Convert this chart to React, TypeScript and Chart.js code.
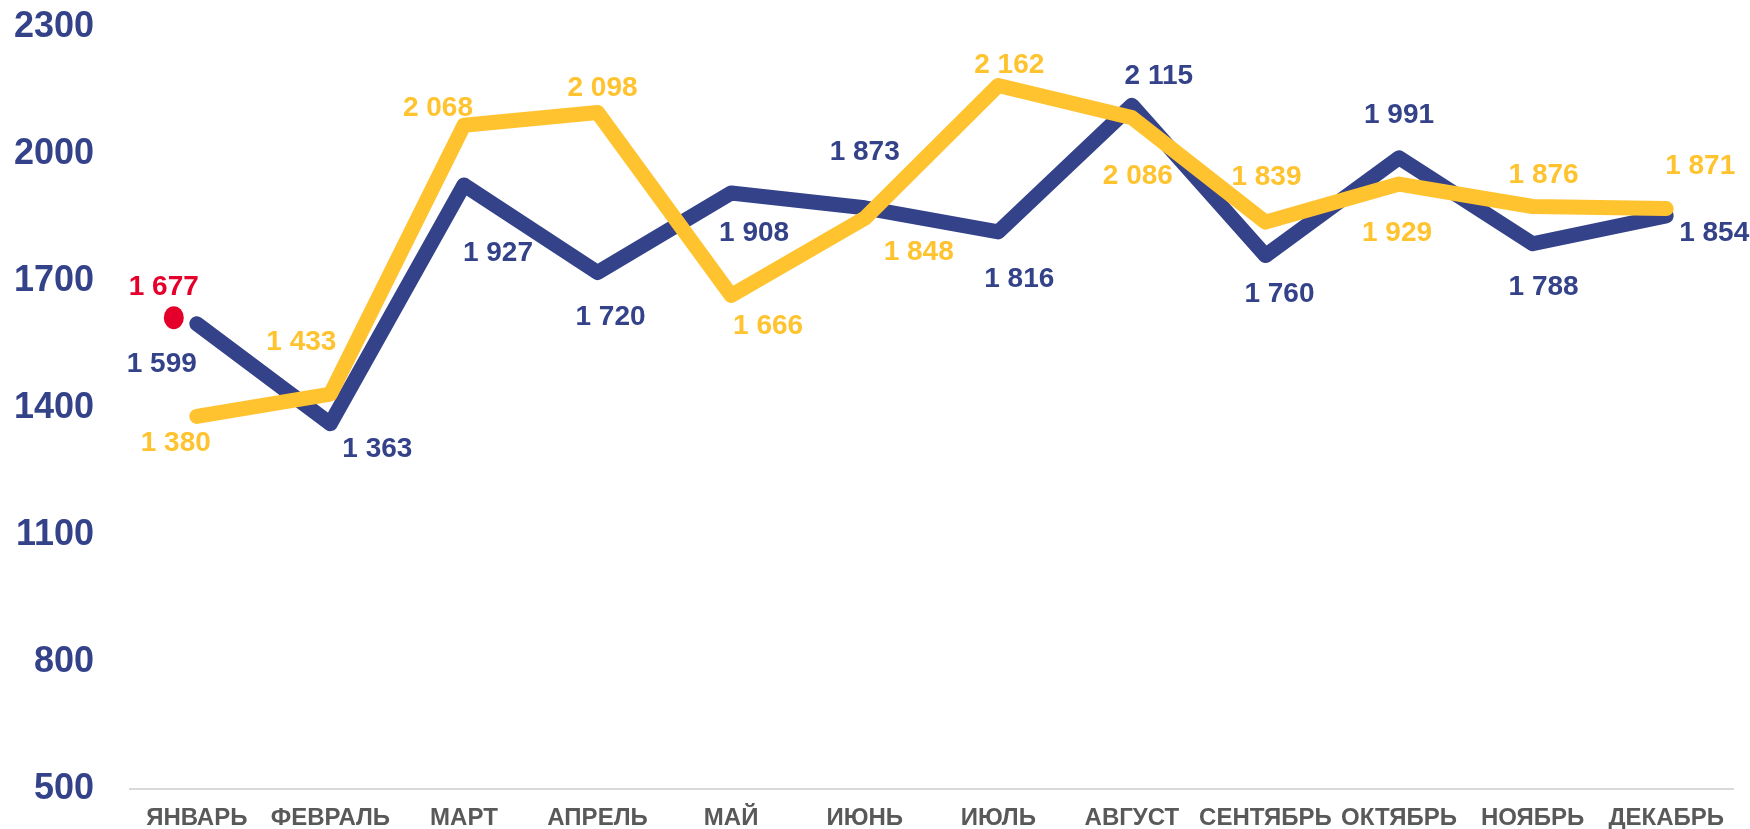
import React, { useEffect, useRef } from "react";
import { Chart, registerables } from "chart.js";

Chart.register(...registerables);

const months = ["ЯНВАРЬ", "ФЕВРАЛЬ", "МАРТ", "АПРЕЛЬ", "МАЙ", "ИЮНЬ", "ИЮЛЬ", "АВГУСТ", "СЕНТЯБРЬ", "ОКТЯБРЬ", "НОЯБРЬ", "ДЕКАБРЬ"];
const blueValues = [1599, 1363, 1927, 1720, 1908, 1873, 1816, 2115, 1760, 1991, 1788, 1854];
const yellowValues = [1380, 1433, 2068, 2098, 1666, 1848, 2162, 2086, 1839, 1929, 1876, 1871];
const redValues = [1677, null, null, null, null, null, null, null, null, null, null, null];
const yTickValues = [500, 800, 1100, 1400, 1700, 2000, 2300];

// label placement offsets (px) — styling only
const blueLabelOffsets = [[-35, 41], [47, 26], [34, 68], [13, 45], [23, 40], [0, -55], [21, 47], [27, -29], [14, 39], [0, -43], [11, 44], [48, 17]];
const yellowLabelOffsets = [[-21, 27], [-29, -52], [-26, -17], [5, -24], [37, 31], [54, 34], [11, -20], [6, 59], [1, -45], [-2, 49], [11, -31], [34, -42]];
const redDotOffset = [-23, 27];
const redLabelOffset = [-33, -3];

const NAVY = "#344289";
const YELLOW = "#FFC32F";
const RED = "#E4002B";
const GRAY = "#595959";
const FONT = "'Liberation Sans', Arial, sans-serif";

const fmt = (v: number) => {
  const th = Math.floor(v / 1000);
  const rest = v % 1000;
  return th > 0 ? `${th} ${String(rest).padStart(3, "0")}` : String(rest);
};

const labelPlugin = {
  id: "customLabels",
  afterDatasetsDraw(chart: any) {
    const ctx = chart.ctx;
    ctx.save();
    ctx.font = `bold 28px ${FONT}`;
    ctx.textAlign = "center";
    ctx.textBaseline = "middle";
    chart.data.datasets.forEach((ds: any, i: number) => {
      const meta = chart.getDatasetMeta(i);
      if (ds.kind === "red") {
        const pt = meta.data[0];
        if (!pt) return;
        ctx.fillStyle = RED;
        ctx.beginPath();
        ctx.ellipse(pt.x + redDotOffset[0], pt.y + redDotOffset[1], 10, 11.5, 0, 0, Math.PI * 2);
        ctx.fill();
        ctx.fillText(fmt(ds.data[0]), pt.x + redLabelOffset[0], pt.y + redLabelOffset[1]);
        return;
      }
      const offs = ds.labelOffsets;
      ctx.fillStyle = ds.borderColor;
      meta.data.forEach((pt: any, j: number) => {
        const v = ds.data[j];
        if (v == null) return;
        const [dx, dy] = offs[j];
        ctx.fillText(fmt(v), pt.x + dx, pt.y + dy);
      });
    });
    ctx.restore();
  },
};

export default function App() {
  const ref = useRef<HTMLCanvasElement>(null);
  useEffect(() => {
    if (!ref.current) return;
    Chart.defaults.font.family = FONT;
    const chart = new Chart(ref.current, {
      type: "line",
      data: {
        labels: months,
        datasets: [
          {
            label: "yellow",
            data: yellowValues,
            borderColor: YELLOW,
            backgroundColor: YELLOW,
            borderWidth: 15,
            borderCapStyle: "round",
            borderJoinStyle: "round",
            pointRadius: 0,
            tension: 0,
            order: 0,
            labelOffsets: yellowLabelOffsets,
          } as any,
          {
            label: "blue",
            data: blueValues,
            borderColor: NAVY,
            backgroundColor: NAVY,
            borderWidth: 15,
            borderCapStyle: "round",
            borderJoinStyle: "round",
            pointRadius: 0,
            tension: 0,
            order: 1,
            labelOffsets: blueLabelOffsets,
          } as any,
          {
            label: "red",
            data: redValues,
            kind: "red",
            showLine: false,
            pointRadius: 0,
            borderColor: RED,
            backgroundColor: RED,
            order: 2,
          } as any,
        ],
      },
      options: {
        responsive: false,
        animation: false,
        layout: { padding: { top: 27, right: 17, left: 0, bottom: 0 } },
        plugins: { legend: { display: false }, tooltip: { enabled: false } },
        scales: {
          x: {
            offset: true,
            grid: { display: false },
            border: { display: true, color: "#D9D9D9", width: 2 },
            ticks: {
              color: GRAY,
              font: { size: 24, weight: "bold" },
              padding: 7,
              maxRotation: 0,
              autoSkip: false,
            },
            afterFit: (s: any) => {
              s.height = 40;
              s.paddingLeft = 0;
              s.paddingRight = 0;
            },
          },
          y: {
            min: 500,
            max: 2300,
            grid: { display: false },
            border: { display: false },
            afterBuildTicks: (s: any) => {
              s.ticks = yTickValues.map((v) => ({ value: v }));
            },
            ticks: {
              color: NAVY,
              font: { size: 36, weight: "bold" },
              padding: 28,
              callback: (v: any) => String(v),
            },
            afterFit: (s: any) => {
              s.width = 130;
              s.paddingTop = 0;
              s.paddingBottom = 0;
            },
          },
        },
      } as any,
      plugins: [labelPlugin],
    });
    return () => chart.destroy();
  }, []);
  return (
    <div style={{ position: "absolute", left: 0, top: 0, width: 1750, height: 829 }}>
      <canvas ref={ref} width={1750} height={829} style={{ display: "block" }} />
    </div>
  );
}
